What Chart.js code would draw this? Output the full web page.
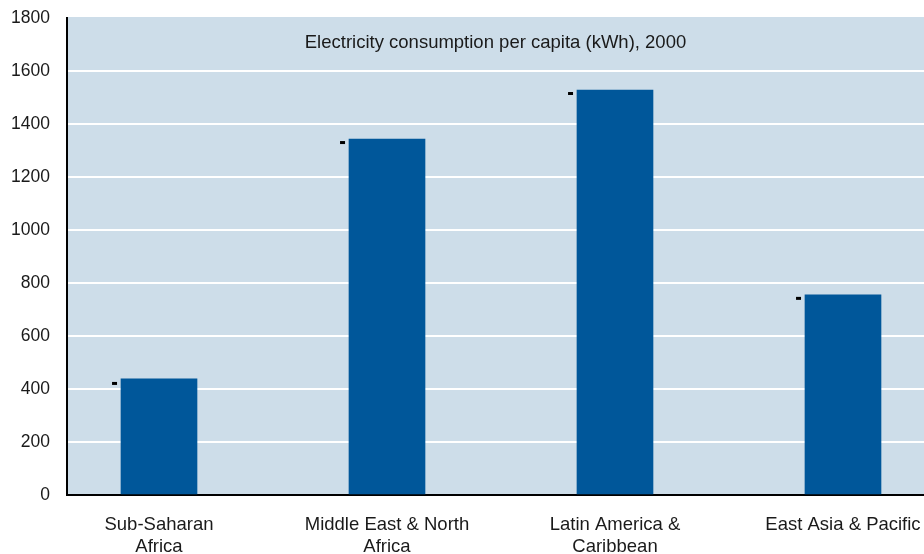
<!DOCTYPE html>
<html>
<head>
<meta charset="utf-8">
<script src="https://cdn.jsdelivr.net/npm/chart.js@4/dist/chart.umd.min.js"></script>
<style>
  html, body { margin: 0; padding: 0; background: #ffffff; overflow: hidden; }
  #wrap { width: 924px; height: 554px; }
</style>
</head>
<body>
<div id="wrap"><canvas id="c" width="924" height="554"></canvas></div>
<script>
// ---- data ----
const categories = [["Sub-Saharan", "Africa"], ["Middle East & North", "Africa"], ["Latin America &", "Caribbean"], ["East Asia & Pacific"]];
const consumption = [438, 1343, 1528, 755];
const markerValues = [421, 1330, 1515, 742];
const yTicks = [0, 200, 400, 600, 800, 1000, 1200, 1400, 1600, 1800];
const chartTitle = "Electricity consumption per capita (kWh), 2000";

const FONT = "'Liberation Sans', Arial, Helvetica, sans-serif";
const MARKER_SHIFT = 0.195;

const barData = consumption.map((v, i) => ({ x: i, y: v }));
const markerData = markerValues.map((v, i) => ({ x: i - MARKER_SHIFT, y: v }));

const bgPlugin = {
  id: 'bg',
  beforeDraw(chart) {
    const { ctx, chartArea: a } = chart;
    ctx.save();
    ctx.fillStyle = '#cddde9';
    ctx.fillRect(a.left, a.top - 1, a.right - a.left, a.bottom - a.top + 1);
    ctx.restore();
  },
  afterDatasetsDraw(chart) {
    const { ctx, chartArea: a } = chart;
    ctx.save();
    ctx.fillStyle = '#1a1a1a';
    ctx.font = "18.5px " + FONT;
    ctx.textAlign = 'center';
    ctx.textBaseline = 'middle';
    ctx.fillText(chartTitle, (a.left + a.right) / 2, a.top + 25);
    ctx.restore();
  }
};

new Chart(document.getElementById('c'), {
  type: 'bar',
  data: {
    datasets: [
      {
        type: 'line',
        data: markerData,
        showLine: false,
        pointStyle: 'line',
        pointRadius: 2.5,
        pointBorderWidth: 3,
        pointBorderColor: '#000000',
        pointBackgroundColor: '#000000',
        pointHoverRadius: 2.5,
        order: 0
      },
      {
        type: 'bar',
        data: barData,
        backgroundColor: '#00579a',
        borderWidth: 0,
        barThickness: 76,
        order: 1
      }
    ]
  },
  options: {
    responsive: false,
    animation: false,
    devicePixelRatio: 1,
    layout: { autoPadding: false, padding: { top: 18, right: 0, bottom: 0, left: 0 } },
    plugins: { legend: { display: false }, tooltip: { enabled: false }, title: { display: false } },
    scales: {
      x: {
        type: 'linear',
        offset: false,
        min: -0.4035,
        max: 3.3553,
        afterFit(scale) { scale.height = 59; scale.paddingRight = 0; scale.paddingLeft = 0; },
        grid: { display: false, drawTicks: false, offset: false },
        border: { display: true, color: '#000000', width: 2 },
        ticks: {
          stepSize: 1,
          includeBounds: false,
          autoSkip: false,
          maxRotation: 0,
          padding: 19,
          color: '#1a1a1a',
          font: { family: FONT, size: 18.5, lineHeight: 1.2 },
          callback: (v) => Number.isInteger(v) && categories[v] ? categories[v] : ''
        }
      },
      y: {
        min: yTicks[0],
        max: yTicks[yTicks.length - 1],
        afterFit(scale) { scale.width = 67; scale.paddingTop = 0; scale.paddingBottom = 0; },
        afterBuildTicks(scale) { scale.ticks = yTicks.map(v => ({ value: v })); },
        grid: {
          color: (c) => (c.tick && c.tick.value === yTicks[yTicks.length - 1]) ? 'rgba(0,0,0,0)' : '#ffffff',
          lineWidth: 2,
          drawTicks: false
        },
        border: { display: true, color: '#000000', width: 2 },
        ticks: {
          padding: 17,
          color: '#1a1a1a',
          font: { family: FONT, size: 17.5 },
          callback: (v) => String(v)
        }
      }
    }
  },
  plugins: [bgPlugin]
});
</script>
</body>
</html>
